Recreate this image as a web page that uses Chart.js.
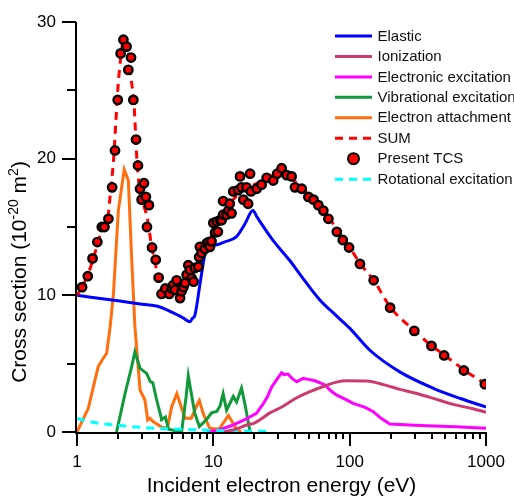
<!DOCTYPE html>
<html><head><meta charset="utf-8">
<script src="https://cdn.jsdelivr.net/npm/chart.js@4/dist/chart.umd.min.js"></script>
<style>html,body{margin:0;padding:0;background:#fff;overflow:hidden}</style>
</head><body>
<canvas id="c" width="514" height="497"></canvas>
<script>
const FONT = '"Liberation Sans", Arial, sans-serif';

// ---- data (energy in eV, cross section in 1e-20 m^2) ----
const elasticE = [1, 2, 3, 3.9, 5, 6, 6.75, 7.0, 7.33, 8.0, 8.7, 8.94, 9.5, 10.6, 12, 14.8, 17, 19.5, 21, 27.5, 36, 45, 60, 80, 100, 140, 233, 411, 650, 1000];
const elasticV = [10.0, 9.6, 9.35, 9.2, 8.75, 8.35, 8.07, 8.3, 8.56, 10.9, 13.1, 13.5, 13.65, 13.7, 13.9, 14.3, 15.2, 16.2, 15.7, 14.0, 12.6, 11.3, 9.7, 8.5, 7.6, 6.0, 4.4, 3.2, 2.45, 1.83];

const ionE = [12, 15, 18, 20, 22, 26, 32, 40, 51, 65, 80, 95, 133, 180, 233, 300, 411, 575, 800, 1000];
const ionV = [0, 0.25, 0.55, 0.65, 0.9, 1.4, 1.85, 2.45, 2.95, 3.35, 3.65, 3.75, 3.73, 3.45, 3.12, 2.85, 2.46, 2.02, 1.7, 1.45];

const elecE = [9, 11, 13.9, 17, 20.7, 23, 25, 26.8, 29, 31.7, 33, 35.3, 38, 40.9, 45.6, 50, 55.6, 66, 73, 80.5, 95, 106, 130, 149, 170, 197, 300, 411, 600, 1000];
const elecV = [0, 0.15, 0.5, 0.9, 1.37, 2.0, 2.6, 3.3, 3.8, 4.34, 4.2, 4.24, 3.9, 3.68, 3.92, 3.85, 3.75, 3.44, 3.0, 2.7, 2.35, 2.1, 1.8, 1.49, 1.0, 0.58, 0.5, 0.44, 0.38, 0.27];

const vibE = [1.95, 2.25, 2.52, 2.66, 2.9, 3.24, 3.45, 3.6, 3.84, 4.13, 4.17, 4.45, 4.7, 5.85, 6.3, 6.55, 6.9, 7.3, 7.9, 8.9, 9.7, 10.6, 11.2, 11.8, 12.5, 14.0, 14.8, 16.1, 17.0, 18.6];
const vibV = [0, 2.8, 4.8, 5.87, 4.66, 4.29, 3.68, 3.6, 2.34, 1.12, 0.9, 1.1, 0.2, 0, 2.5, 4.1, 2.8, 1.4, 0.4, 0.9, 1.4, 1.5, 1.9, 2.8, 1.6, 2.6, 2.2, 3.2, 2.1, 0];

const attE = [1, 1.21, 1.43, 1.53, 1.65, 1.75, 1.85, 2.01, 2.22, 2.38, 2.52, 2.66, 2.9, 3.15, 3.3, 3.43, 3.63, 4.2, 4.6, 4.95, 5.4, 6.2, 6.9, 7.6, 7.9, 8.4, 9.4, 11, 12.9, 14.8, 16];
const attV = [0, 1.73, 4.78, 5.27, 5.76, 7.7, 10.1, 16.2, 19.2, 18.4, 12.6, 7.7, 3.07, 2.34, 0.88, 1.0, 0.75, 0.35, 0.3, 1.85, 2.8, 1.0, 1.0, 2.0, 2.3, 1.4, 0.27, 0.2, 1.2, 0.2, 0];

const sumE = [1, 1.1, 1.2, 1.3, 1.4, 1.5, 1.6, 1.7, 1.75, 1.85, 1.93, 2.0, 2.1, 2.2, 2.3, 2.4, 2.5, 2.62, 2.74, 2.86, 2.98, 3.1, 3.3, 3.5, 3.7, 3.9, 4.2, 4.6, 5.0, 5.5, 6.0, 6.5, 7.0, 7.5, 8.0, 8.6, 9.3, 10, 11, 12, 13, 14, 16, 18, 20, 25, 31, 35, 40, 50, 60, 70, 80, 90, 100, 120, 150, 200, 300, 400, 500, 700, 1000];
const sumV = [10.0, 10.7, 11.5, 12.5, 13.6, 14.6, 15.2, 16.0, 17.3, 19.8, 22.8, 25.3, 27.5, 28.8, 28.6, 27.6, 25.8, 24.0, 20.2, 17.9, 16.8, 16.5, 15.5, 13.8, 12.6, 11.5, 10.4, 10.2, 10.4, 10.6, 10.6, 11.3, 11.5, 12.0, 13.0, 13.5, 13.8, 14.8, 15.3, 15.9, 16.5, 17.0, 17.6, 18.0, 18.1, 18.6, 19.0, 18.8, 18.3, 17.4, 16.6, 15.8, 14.8, 14.1, 13.5, 12.3, 11.1, 9.1, 7.4, 6.3, 5.6, 4.5, 3.5];

const tcsE = [1.09, 1.2, 1.3, 1.41, 1.52, 1.59, 1.7, 1.81, 1.9, 1.99, 2.09, 2.19, 2.31, 2.38, 2.49, 2.59, 2.71, 2.8, 2.9, 2.98, 3.1, 3.2, 3.37, 3.26, 3.55, 3.78, 3.97, 4.17, 4.45, 4.75, 4.95, 5.08, 5.23, 5.38, 5.7, 5.85, 6.03, 6.2, 6.37, 6.55, 6.73, 6.93, 7.16, 7.33, 7.76, 7.87, 7.97, 8.2, 8.67, 8.94, 9.2, 9.45, 9.7, 10.0, 10.3, 10.6, 10.8, 11.2, 11.5, 11.8, 11.8, 12.5, 12.9, 13.2, 13.6, 14.0, 15.2, 15.7, 16.1, 16.6, 17.5, 18.0, 18.6, 18.9, 20.8, 22.6, 24.6, 27.5, 29.4, 31.7, 34.5, 37.5, 39.7, 44.5, 49.8, 54.3, 58.9, 64.1, 69.8, 80.5, 89, 99, 119, 150, 198, 298, 398, 493, 688, 981];
const tcsV = [10.6, 11.4, 12.7, 13.9, 15.0, 15.0, 15.6, 17.9, 20.6, 24.3, 27.7, 28.7, 28.2, 26.5, 27.4, 24.3, 21.4, 19.5, 17.8, 17.0, 18.2, 17.2, 16.6, 15.0, 13.5, 12.6, 11.3, 10.1, 10.5, 10.1, 10.5, 10.75, 10.4, 11.1, 9.8, 10.3, 10.6, 10.9, 11.5, 12.2, 11.85, 11.25, 11.0, 12.0, 12.1, 12.8, 13.55, 13.1, 13.4, 13.8, 13.9, 13.55, 13.95, 15.3, 14.6, 15.4, 14.65, 15.5, 15.5, 15.9, 16.9, 15.9, 16.2, 16.7, 16.0, 17.6, 17.7, 18.7, 17.9, 17.0, 17.9, 16.7, 18.9, 17.6, 17.8, 18.1, 18.6, 18.4, 18.9, 19.3, 18.8, 18.7, 17.9, 17.8, 17.2, 17.0, 16.6, 16.2, 15.6, 14.65, 14.05, 13.5, 12.3, 11.1, 9.1, 7.4, 6.3, 5.6, 4.5, 3.5];

const rotE = [1, 1.25, 1.5, 1.95, 3, 4.5, 7, 10, 15, 25];
const rotV = [1.0, 0.75, 0.62, 0.5, 0.33, 0.24, 0.17, 0.12, 0.08, 0.05];

const xTickValues = [1,2,3,4,5,6,7,8,9,10,20,30,40,50,60,70,80,90,100,200,300,400,500,600,700,800,900,1000];
const xTickLabels = {1:'1', 10:'10', 100:'100', 1000:'1000'};
const yTickValues = [0, 10, 20, 30];
const yMinorTicks = [5, 15, 25];
const legendOrder = ['Elastic', 'Ionization', 'Electronic excitation', 'Vibrational excitation', 'Electron attachment', 'SUM', 'Present TCS', 'Rotational excitation'];

function pts(E, V) { return E.map((e, i) => ({ x: e, y: V[i] })); }

function lineDs(label, E, V, color, extra) {
  return Object.assign({
    label, data: pts(E, V), borderColor: color, backgroundColor: color,
    borderWidth: 3, pointRadius: 0, fill: false, tension: 0, order: 5
  }, extra || {});
}

const datasets = [
  lineDs('Electron attachment', attE, attV, '#ff6f0f', { order: 6 }),
  lineDs('Vibrational excitation', vibE, vibV, '#10993a', { order: 5 }),
  lineDs('Rotational excitation', rotE, rotV, '#00ffff', { borderDash: [8, 6], cubicInterpolationMode: 'monotone', order: 4 }),
  lineDs('Electronic excitation', elecE, elecV, '#ff00ff', { order: 4 }),
  lineDs('Ionization', ionE, ionV, '#cc3b70', { cubicInterpolationMode: 'monotone', order: 3 }),
  lineDs('Elastic', elasticE, elasticV, '#0000ff', { cubicInterpolationMode: 'monotone', order: 2 }),
  lineDs('SUM', sumE, sumV, '#ff0000', { borderDash: [8, 6], cubicInterpolationMode: 'monotone', order: 1 }),
  {
    label: 'Present TCS', data: pts(tcsE, tcsV), showLine: false,
    pointRadius: 4.2, pointBackgroundColor: '#ff0000', pointBorderColor: '#000',
    pointBorderWidth: 2.4, borderColor: '#000', backgroundColor: '#ff0000', order: 0
  }
];

const axesPlugin = {
  id: 'axesPlugin',
  afterDatasetsDraw(chart) {
    const ctx = chart.ctx, ca = chart.chartArea, xs = chart.scales.x, ys = chart.scales.y;
    ctx.save();
    ctx.strokeStyle = '#000';
    ctx.lineWidth = 2;
    ctx.lineCap = 'butt';
    const ax = ca.left - 1, ay = ca.bottom + 1;
    ctx.beginPath();
    ctx.moveTo(ax, ca.top); ctx.lineTo(ax, ay);
    ctx.moveTo(ax - 1, ay); ctx.lineTo(ca.right + 1, ay);
    ctx.stroke();
    ctx.beginPath();
    xTickValues.forEach(v => {
      const px = Math.round(xs.getPixelForValue(v));
      const len = xTickLabels[v] ? 13 : 6;
      ctx.moveTo(px, ay); ctx.lineTo(px, ay + len);
    });
    yTickValues.forEach(v => {
      const py = Math.round(ys.getPixelForValue(v));
      ctx.moveTo(ax, py); ctx.lineTo(ax - 14, py);
    });
    yMinorTicks.forEach(v => {
      const py = Math.round(ys.getPixelForValue(v));
      ctx.moveTo(ax, py); ctx.lineTo(ax - 9, py);
    });
    ctx.stroke();

    ctx.fillStyle = '#000';
    ctx.font = '21px ' + FONT;
    ctx.textAlign = 'center';
    ctx.textBaseline = 'alphabetic';
    ctx.fillText('Incident electron energy (eV)', (ca.left + ca.right) / 2, 492);

    const big = '21px ' + FONT, small = '14px ' + FONT;
    const parts = [
      ['Cross section (10', big, 0],
      ['-20', small, -8],
      [' m', big, 0],
      ['2', small, -8],
      [')', big, 0]
    ];
    let total = 0;
    parts.forEach(p => { ctx.font = p[1]; p.w = ctx.measureText(p[0]).width; total += p.w; });
    ctx.translate(26, 272);
    ctx.rotate(-Math.PI / 2);
    ctx.textAlign = 'left';
    let cx = -total / 2;
    parts.forEach(p => { ctx.font = p[1]; ctx.fillText(p[0], cx, p[2]); cx += p.w; });
    ctx.restore();

    ctx.save();
    ctx.font = '15px ' + FONT;
    ctx.textBaseline = 'middle';
    ctx.textAlign = 'left';
    legendOrder.forEach((name, i) => {
      const ds = chart.data.datasets.find(d => d.label === name);
      const y = 36 + i * 20.45;
      if (name === 'Present TCS') {
        ctx.beginPath();
        ctx.arc(353.5, y, 5.5, 0, Math.PI * 2);
        ctx.fillStyle = ds.pointBackgroundColor;
        ctx.fill();
        ctx.lineWidth = 2;
        ctx.strokeStyle = '#000';
        ctx.stroke();
      } else {
        ctx.beginPath();
        ctx.setLineDash(ds.borderDash || []);
        ctx.lineWidth = 3;
        ctx.strokeStyle = ds.borderColor;
        ctx.moveTo(335, y); ctx.lineTo(372, y);
        ctx.stroke();
        ctx.setLineDash([]);
      }
      ctx.fillStyle = '#111';
      ctx.fillText(name, 377.5, y + 0.5);
    });
    ctx.restore();
  }
};

new Chart(document.getElementById('c'), {
  type: 'line',
  data: { datasets },
  options: {
    responsive: false,
    animation: false,
    devicePixelRatio: 1,
    layout: { padding: { left: 0, right: 28, top: 22, bottom: 0 } },
    plugins: { legend: { display: false }, tooltip: { enabled: false } },
    scales: {
      x: {
        type: 'logarithmic', min: 1, max: 1000,
        afterBuildTicks: s => { s.ticks = xTickValues.map(v => ({ value: v })); },
        ticks: {
          autoSkip: false, maxRotation: 0, minRotation: 0, padding: 20,
          color: '#000', font: { family: FONT, size: 17 },
          callback: v => xTickLabels[v] || ''
        },
        grid: { display: false, drawTicks: false },
        border: { display: false },
        afterFit: s => { s.height = 65; s.paddingLeft = 0; s.paddingRight = 0; s.paddingTop = 0; s.paddingBottom = 0; }
      },
      y: {
        type: 'linear', min: 0, max: 30,
        afterBuildTicks: s => { s.ticks = yTickValues.map(v => ({ value: v })); },
        ticks: { padding: 21, color: '#000', font: { family: FONT, size: 17 } },
        grid: { display: false, drawTicks: false },
        border: { display: false },
        afterFit: s => { s.width = 77; s.paddingLeft = 0; s.paddingRight = 0; s.paddingTop = 0; s.paddingBottom = 0; }
      }
    }
  },
  plugins: [axesPlugin]
});
</script>
</body></html>
